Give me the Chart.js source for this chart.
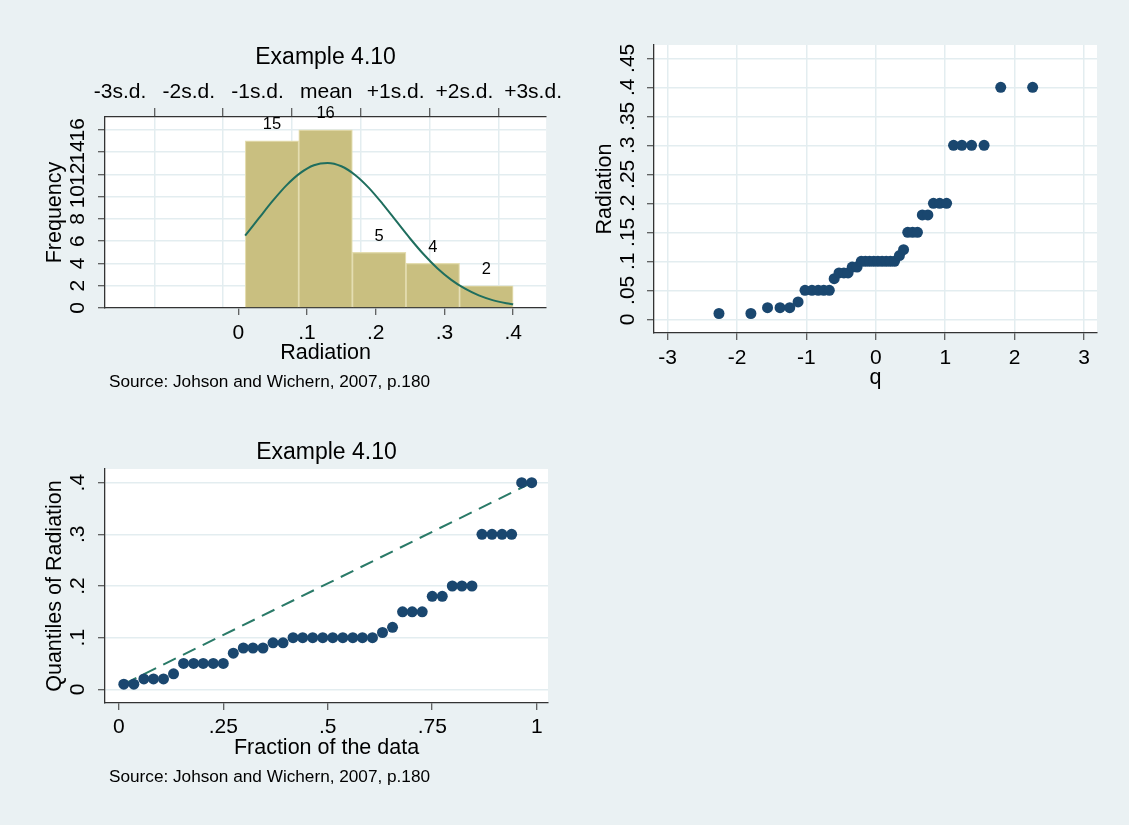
<!DOCTYPE html>
<html>
<head>
<meta charset="utf-8">
<script src="https://cdn.jsdelivr.net/npm/chart.js@4.4.1/dist/chart.umd.min.js"></script>
<style>
  html, body { margin: 0; padding: 0; }
  body { width: 1129px; height: 825px; background: #eaf1f3; position: relative; overflow: hidden; }
  .panel { position: absolute; }
</style>
</head>
<body>
<div class="panel" style="left:0;top:0;width:566px;height:410px"><canvas id="hist"></canvas></div>
<div class="panel" style="left:565px;top:0;width:564px;height:410px"><canvas id="qq"></canvas></div>
<div class="panel" style="left:0;top:410px;width:565px;height:415px"><canvas id="quant"></canvas></div>
<script>
// Microwave radiation readings, ordered (n = 42)
const radiation = [0.01, 0.01, 0.02, 0.02, 0.02, 0.03, 0.05, 0.05, 0.05, 0.05, 0.05, 0.07, 0.08, 0.08,
  0.08, 0.09, 0.09, 0.10, 0.10, 0.10, 0.10, 0.10, 0.10, 0.10, 0.10, 0.10, 0.11, 0.12, 0.15, 0.15,
  0.15, 0.18, 0.18, 0.20, 0.20, 0.20, 0.30, 0.30, 0.30, 0.30, 0.40, 0.40];
// Plotting positions (i - 0.5) / n
const fraction = [0.012, 0.036, 0.060, 0.083, 0.107, 0.131, 0.155, 0.179, 0.202, 0.226, 0.250, 0.274,
  0.298, 0.321, 0.345, 0.369, 0.393, 0.417, 0.440, 0.464, 0.488, 0.512, 0.536, 0.560, 0.583, 0.607,
  0.631, 0.655, 0.679, 0.702, 0.726, 0.750, 0.774, 0.798, 0.821, 0.845, 0.869, 0.893, 0.917, 0.940,
  0.964, 0.988];
// Standard normal quantiles for those positions
const normalQ = [-2.26, -1.80, -1.56, -1.38, -1.24, -1.12, -1.02, -0.92, -0.83, -0.75, -0.67, -0.60,
  -0.53, -0.46, -0.40, -0.34, -0.27, -0.21, -0.15, -0.09, -0.03, 0.03, 0.09, 0.15, 0.21, 0.27, 0.34,
  0.40, 0.46, 0.53, 0.60, 0.67, 0.75, 0.83, 0.92, 1.02, 1.12, 1.24, 1.38, 1.56, 1.80, 2.26];

// Histogram bins (width .078 starting at .01) and counts
const binCenters = [0.049, 0.127, 0.205, 0.283, 0.361];
const binCounts = [15, 16, 5, 4, 2];
// Fitted normal curve, scaled to frequency
const curveX = [0.01, 0.03, 0.05, 0.07, 0.09, 0.11, 0.13, 0.15, 0.17, 0.19, 0.21, 0.23, 0.25, 0.27,
  0.29, 0.31, 0.33, 0.35, 0.37, 0.39, 0.40];
const curveY = [6.50, 8.06, 9.61, 11.01, 12.11, 12.82, 13.03, 12.73, 11.95, 10.79, 9.35, 7.79, 6.24,
  4.80, 3.55, 2.53, 1.73, 1.13, 0.71, 0.43, 0.33];

// Tick values and labels
const histXTicks = [0, 0.1, 0.2, 0.3, 0.4];
const histXLabels = ['0', '.1', '.2', '.3', '.4'];
const histYTicks = [0, 2, 4, 6, 8, 10, 12, 14, 16];
const histYLabels = ['0', '2', '4', '6', '8', '10', '12', '14', '16'];
const sdTicks = [-0.172, -0.072, 0.028, 0.128, 0.229, 0.329, 0.429];
const sdLabels = ['-3s.d.', '-2s.d.', '-1s.d.', 'mean', '+1s.d.', '+2s.d.', '+3s.d.'];
const qqXTicks = [-3, -2, -1, 0, 1, 2, 3];
const qqXLabels = ['-3', '-2', '-1', '0', '1', '2', '3'];
const qqYTicks = [0, 0.05, 0.1, 0.15, 0.2, 0.25, 0.3, 0.35, 0.4, 0.45];
const qqYLabels = ['0', '.05', '.1', '.15', '.2', '.25', '.3', '.35', '.4', '.45'];
const quantXTicks = [0, 0.25, 0.5, 0.75, 1];
const quantXLabels = ['0', '.25', '.5', '.75', '1'];
const quantYTicks = [0, 0.1, 0.2, 0.3, 0.4];
const quantYLabels = ['0', '.1', '.2', '.3', '.4'];

const titleText = 'Example 4.10';
const noteText = 'Source: Johson and Wichern, 2007, p.180';

const FONT = '"Liberation Sans", Arial, Helvetica, sans-serif';
const NAVY = '#1a476f';
const TEAL = '#1f6e5e';
const AXIS = '#333333';
const GRID = '#e3edf0';

Chart.defaults.font.family = FONT;
Chart.defaults.color = '#000';
Chart.defaults.animation = false;
Chart.defaults.events = [];
Chart.defaults.plugins.legend.display = false;
Chart.defaults.plugins.tooltip.enabled = false;

// White plot region, centred title, source note, bar counts
const panelText = {
  id: 'panelText',
  beforeDraw(chart) {
    const { ctx, chartArea: a } = chart;
    ctx.save();
    ctx.fillStyle = '#ffffff';
    ctx.fillRect(a.left, a.top, a.right - a.left, a.bottom - a.top);
    ctx.restore();
  },
  afterDatasetsDraw(chart, args, opts) {
    const { ctx } = chart;
    if (opts.barLabels) {
      const idx = chart.data.datasets.findIndex(d => d.type === 'bar');
      const meta = chart.getDatasetMeta(idx);
      ctx.save();
      ctx.font = '16.5px ' + FONT;
      ctx.fillStyle = '#000';
      ctx.textAlign = 'center';
      ctx.textBaseline = 'middle';
      meta.data.forEach((bar, i) => ctx.fillText(String(binCounts[i]), bar.x, bar.y - 16));
      ctx.restore();
    }
  },
  afterDraw(chart, args, opts) {
    const { ctx, chartArea: a } = chart;
    ctx.save();
    ctx.fillStyle = '#000';
    ctx.textBaseline = 'middle';
    if (opts.title) {
      ctx.font = '23px ' + FONT;
      ctx.textAlign = 'center';
      ctx.fillText(opts.title, (a.left + a.right) / 2, opts.titleY);
    }
    if (opts.note) {
      ctx.font = '17.2px ' + FONT;
      ctx.textAlign = 'left';
      ctx.fillText(opts.note, a.left + 4, opts.noteY);
    }
    ctx.restore();
  }
};

const setTicks = (vals) => (s) => { s.ticks = vals.map(v => ({ value: v })); };
const fixW = (w) => (s) => { s.width = w; };
const fixH = (h) => (s) => { s.height = h; };
const tickFont = { size: 21 };
const axTitle = (text, pad) => ({ display: true, text, font: { size: 21.5 }, padding: pad, color: '#000' });

function yAxis(min, max, vals, labels, width, pad, title, grid) {
  return {
    type: 'linear', position: 'left', min, max,
    afterBuildTicks: setTicks(vals), afterFit: fixW(width),
    ticks: { font: tickFont, minRotation: 90, maxRotation: 90, crossAlign: 'center', padding: pad,
      autoSkip: false, callback: (v, i) => labels[i] },
    grid: { color: GRID, lineWidth: 1.5, drawOnChartArea: grid, tickColor: AXIS, tickLength: 7, tickWidth: 1 },
    border: { display: true, color: AXIS, width: 1.3 },
    title: axTitle(title, { top: 2, bottom: 0 })
  };
}
function xAxis(min, max, vals, labels, pad, title, grid) {
  return {
    type: 'linear', position: 'bottom', min, max, offset: false,
    afterBuildTicks: setTicks(vals), afterFit: fixH(57.6),
    ticks: { font: tickFont, padding: pad, autoSkip: false, maxRotation: 0, callback: (v, i) => labels[i] },
    grid: { offset: false, color: GRID, lineWidth: 1.5, drawOnChartArea: grid, tickColor: AXIS, tickLength: 7, tickWidth: 1 },
    border: { display: true, color: AXIS, width: 1.3 },
    title: axTitle(title, { top: 0, bottom: 0 })
  };
}

// Histogram with normal density overlay
new Chart(document.getElementById('hist'), {
  type: 'bar',
  data: {
    datasets: [
      {
        type: 'bar', order: 1,
        data: binCenters.map((x, i) => ({ x, y: binCounts[i] })),
        backgroundColor: '#c9bf80', borderColor: '#e4ddb0', borderWidth: 1.2,
        barPercentage: 1, categoryPercentage: 1
      },
      {
        type: 'line', order: 0,
        data: curveX.map((x, i) => ({ x, y: curveY[i] })),
        borderColor: TEAL, borderWidth: 2, pointRadius: 0, fill: false,
        cubicInterpolationMode: 'monotone'
      }
    ]
  },
  options: {
    responsive: true, maintainAspectRatio: false,
    layout: { padding: { top: 71.2, left: 40, right: 18, bottom: 44.4 } },
    scales: {
      x: xAxis(-0.194, 0.448, histXTicks, histXLabels, 5.5, 'Radiation', false),
      sd: {
        type: 'linear', axis: 'x', position: 'top', min: -0.194, max: 0.448, offset: false,
        afterBuildTicks: setTicks(sdTicks), afterFit: fixH(45.8),
        ticks: { font: tickFont, padding: 3.5, autoSkip: false, maxRotation: 0, callback: (v, i) => sdLabels[i] },
        grid: { color: GRID, lineWidth: 1.5, drawOnChartArea: true, tickColor: AXIS, tickLength: 9, tickWidth: 1 },
        border: { display: true, color: AXIS, width: 1.3 }
      },
      y: yAxis(0, 17.15, histYTicks, histYLabels, 65, 8, 'Frequency', true)
    },
    plugins: { panelText: { title: titleText, titleY: 58, note: noteText, noteY: 382, barLabels: true } }
  },
  plugins: [panelText]
});

// Normal quantile plot
new Chart(document.getElementById('qq'), {
  type: 'scatter',
  data: {
    datasets: [{
      data: radiation.map((r, i) => ({ x: normalQ[i], y: r })),
      backgroundColor: NAVY, borderWidth: 0, pointRadius: 5.5
    }]
  },
  options: {
    responsive: true, maintainAspectRatio: false,
    layout: { padding: { top: 45, left: 25, right: 32, bottom: 19.4 } },
    scales: {
      x: xAxis(-3.196, 3.187, qqXTicks, qqXLabels, 5.5, 'q', true),
      y: yAxis(-0.0236, 0.473, qqYTicks, qqYLabels, 64, 4.5, 'Radiation', true)
    },
    plugins: { panelText: {} }
  },
  plugins: [panelText]
});

// Quantile plot against fraction of the data
new Chart(document.getElementById('quant'), {
  type: 'scatter',
  data: {
    datasets: [
      {
        data: radiation.map((r, i) => ({ x: fraction[i], y: r })),
        backgroundColor: NAVY, borderWidth: 0, pointRadius: 5.5, order: 0
      },
      {
        data: [
          { x: fraction[0], y: radiation[0] },
          { x: fraction[fraction.length - 1], y: radiation[radiation.length - 1] }
        ],
        showLine: true, borderColor: '#2a7a68', borderWidth: 2, borderDash: [14, 8],
        pointRadius: 0, order: 1
      }
    ]
  },
  options: {
    responsive: true, maintainAspectRatio: false,
    layout: { padding: { top: 59, left: 40, right: 17, bottom: 64.4 } },
    scales: {
      x: xAxis(-0.033, 1.027, quantXTicks, quantXLabels, 4.5, 'Fraction of the data', false),
      y: yAxis(-0.0265, 0.4265, quantYTicks, quantYLabels, 65, 11, 'Quantiles of Radiation', true)
    },
    plugins: { panelText: { title: titleText, titleY: 43, note: noteText, noteY: 367 } }
  },
  plugins: [panelText]
});
</script>
</body>
</html>
